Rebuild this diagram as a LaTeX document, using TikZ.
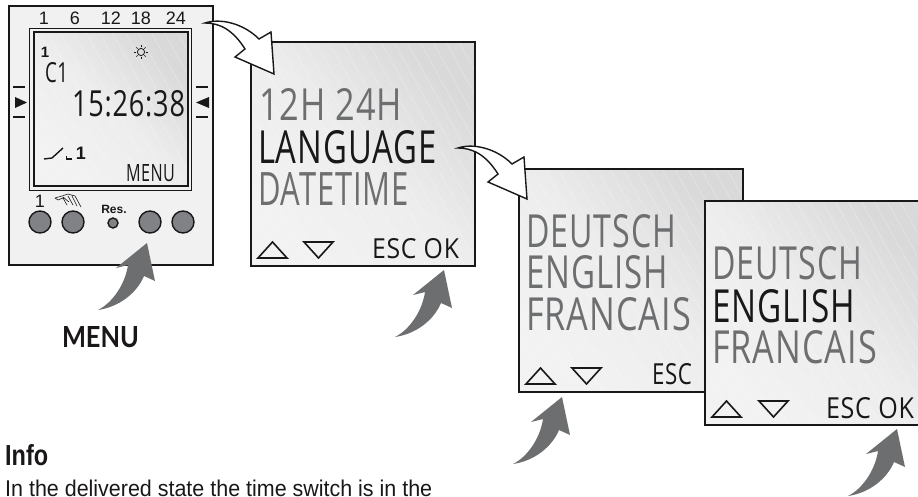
\documentclass[tikz,border=0pt]{standalone}
\usepackage{fontspec}
\usepackage{graphicx}
\setmainfont{Liberation Sans}
\newfontfamily\lcdfont{Open Sans}[LetterSpace=3]
\newfontfamily\menufont{Lato}
\definecolor{lcdgray}{HTML}{6D6E70}
\definecolor{lcdblack}{HTML}{1A1718}
\definecolor{arrowgray}{HTML}{6D6E70}
\definecolor{devicefill}{HTML}{F1F1F2}
\definecolor{btnfill}{HTML}{808285}
\tikzset{
  lcdtxt/.style={anchor=north west,inner sep=0pt,outer sep=0pt},
  frameline/.style={draw=lcdblack,line width=1.3pt},
  pushbtn/.style={circle,draw=lcdblack,line width=1.4pt,fill=btnfill,minimum size=22pt,inner sep=0pt},
  grayarrow/.pic={\fill[arrowgray] (0,0)--(8,38)--(-3,33) .. controls (-10,50) and (-28,64) .. (-49,67) .. controls (-35,60) and (-22,42) .. (-19,22)--(-31,25)--cycle;},
  whitearrow/.pic={\filldraw[fill=white,draw=lcdblack,line width=1.4pt,line join=miter] (0,0)--(-3,-42)--(-15,-35) .. controls (-31,-51) and (-54,-56) .. (-69,-51) .. controls (-54,-51) and (-41,-44) .. (-29,-25)--(-39,-17)--cycle;},
  uptri/.pic={\draw[lcdblack,line width=1.6pt,line join=miter] (0,16)--(14.5,0)--(29,16)--cycle;},
  downtri/.pic={\draw[lcdblack,line width=1.6pt,line join=miter] (0,0)--(29,0)--(14.5,16)--cycle;},
}
\newcommand\lcdt[7]{\node[lcdtxt,text=#6] (#1) at (#2,#3) {\resizebox{#4pt}{#5pt}{\lcdfont #7}};}
% x1 y1 x2 y2
\newcommand\lcdpanel[4]{%
  \shade[bottom color=black!5,top color=black!15,middle color=black!7,shading angle=-45] (#1,#2) rectangle (#3,#4);
  \begin{scope}
    \clip (#1,#2) rectangle (#3,#4);
    \foreach \k in {-10,...,20}{
      \draw[white,line width=0.4pt,opacity=.4] ({#1+\k*13},#2) -- ({#1+\k*13+0.55*(#4-#2)},#4);
    }
  \end{scope}
}
\begin{document}
\begin{tikzpicture}[x=1pt,y=-1pt]
\useasboundingbox (0,0) rectangle (918,497);
\clip (0,0) rectangle (918,497);
% device
\fill[devicefill] (9,6) rectangle (213,265);
\draw[lcdblack,line width=1.6pt] (9,6) rectangle (213,265);
\foreach \x/\t/\n in {44/1/a,75/6/b,111/12/c,141/18/d,176/24/e}
  \node[inner sep=0pt,font=\fontsize{18}{18}\selectfont,text=lcdblack] (hour\n) at (\x,18) {\t};
\draw[lcdblack,line width=.5pt] (29,28) rectangle (191,190);
\lcdpanel{34}{32}{188}{186}
\draw[lcdblack,line width=1.1pt] (34,32) rectangle (188,186);
\draw[lcdblack,line width=1.2pt] (13,87)--(25,87) (13,117)--(25,117) (196,87)--(208,87) (196,117)--(208,117);
\fill[lcdblack] (15,97)--(27,102.5)--(15,108)--cycle;
\fill[lcdblack] (209,97)--(196,102.5)--(209,108)--cycle;
\node[inner sep=0pt,font=\bfseries\fontsize{15}{15}\selectfont,text=lcdblack] (topone) at (45,52) {1};
\lcdt{cone}{45}{62}{23}{20}{lcdblack}{C1}
\lcdt{clock}{72}{90}{113}{26}{lcdblack}{15:26:38}
\draw[lcdblack,line width=.8pt] (141,52) circle (3.6);
\foreach \a in {0,45,...,315}
  \draw[lcdblack,line width=.7pt] (141,52) ++(\a:4.6) -- ++(\a:2);
\draw[lcdblack,line width=1.4pt] (44,159)--(52,158)--(63,148);
\draw[lcdblack,line width=1.4pt] (66.5,156)--(66.5,159)--(72,159);
\node[inner sep=0pt,font=\bfseries\fontsize{18}{18}\selectfont,text=lcdblack] (switchone) at (81,153) {1};
\lcdt{menulcd}{126}{165}{49}{17}{lcdblack}{MENU}
% buttons
\node[pushbtn] (b1) at (40,222) {};
\node[pushbtn] (b2) at (73,222) {};
\node[pushbtn] (b3) at (150,222) {};
\node[pushbtn] (b4) at (183,222) {};
\node[circle,draw=lcdblack,line width=1.4pt,fill=btnfill,minimum size=10pt,inner sep=0pt] (bres) at (113,223) {};
\node[inner sep=0pt,font=\bfseries\fontsize{12}{12}\selectfont,text=lcdblack] (res) at (114,209) {Res.};
\node[inner sep=0pt,font=\fontsize{18}{18}\selectfont,text=lcdblack] (bone) at (40,201) {1};
% hand
\draw[lcdblack,line width=.6pt,line cap=round,line join=round]
  (55,198)--(62,196)--(68,194)--(75,196)--(81,207)
  (58,200)--(63,198)--(67,205) (63,197)--(69,202) (68,196)--(73,205) (72,196)--(77,206) (55,198)--(58,200);
% panel 1
\lcdpanel{251}{42}{475}{266}
\draw[frameline] (251,42) rectangle (475,266);
\lcdt{p1a}{259}{88}{143}{32}{lcdgray}{12H 24H}
\lcdt{p1b}{258}{130}{179}{33}{lcdblack}{LANGUAGE}
\lcdt{p1c}{258}{172}{151}{33}{lcdgray}{DATETIME}
\lcdt{p1d}{372}{238}{87}{20}{lcdblack}{ESC OK}
\pic at (258,242) {uptri};
\pic at (304,242) {downtri};
% panel 2
\lcdpanel{519}{169}{743}{392}
\draw[frameline] (519,169) rectangle (743,392);
\lcdt{p2a}{526}{214}{150}{33}{lcdgray}{DEUTSCH}
\lcdt{p2b}{526}{255}{142}{33}{lcdgray}{ENGLISH}
\lcdt{p2c}{526}{297}{165}{33}{lcdgray}{FRANCAIS}
\lcdt{p2d}{652}{363}{40}{21}{lcdblack}{ESC}
\pic at (526,368) {uptri};
\pic at (572,368) {downtri};
% panel 3
\lcdpanel{705}{201}{929}{425}
\draw[frameline] (705,201) rectangle (929,425);
\lcdt{p3a}{712}{246}{150}{33}{lcdgray}{DEUTSCH}
\lcdt{p3b}{712}{289}{143}{33}{lcdblack}{ENGLISH}
\lcdt{p3c}{712}{330}{165}{33}{lcdgray}{FRANCAIS}
\lcdt{p3d}{826}{397}{88}{21}{lcdblack}{ESC OK}
\pic at (712,401) {uptri};
\pic at (759,401) {downtri};
% arrows
\pic at (274,74) {whitearrow};
\pic at (527,199) {whitearrow};
\pic at (147,243) {grayarrow};
\pic at (444,270) {grayarrow};
\pic at (562,397) {grayarrow};
\pic at (897,429) {grayarrow};
% labels
\node[lcdtxt,text=lcdblack] (menulabel) at (62,326) {\resizebox{77pt}{21pt}{\menufont\bfseries MENU}};
\node[anchor=south west,inner sep=0pt,text=lcdblack] (info) at (5,466) {\resizebox{43pt}{21pt}{\bfseries Info}};
\node[anchor=south west,inner sep=0pt,text=lcdblack] (body) at (5,496.5) {\resizebox{427pt}{16.5pt}{In the delivered state the time switch is in the}};
\end{tikzpicture}
\end{document}
